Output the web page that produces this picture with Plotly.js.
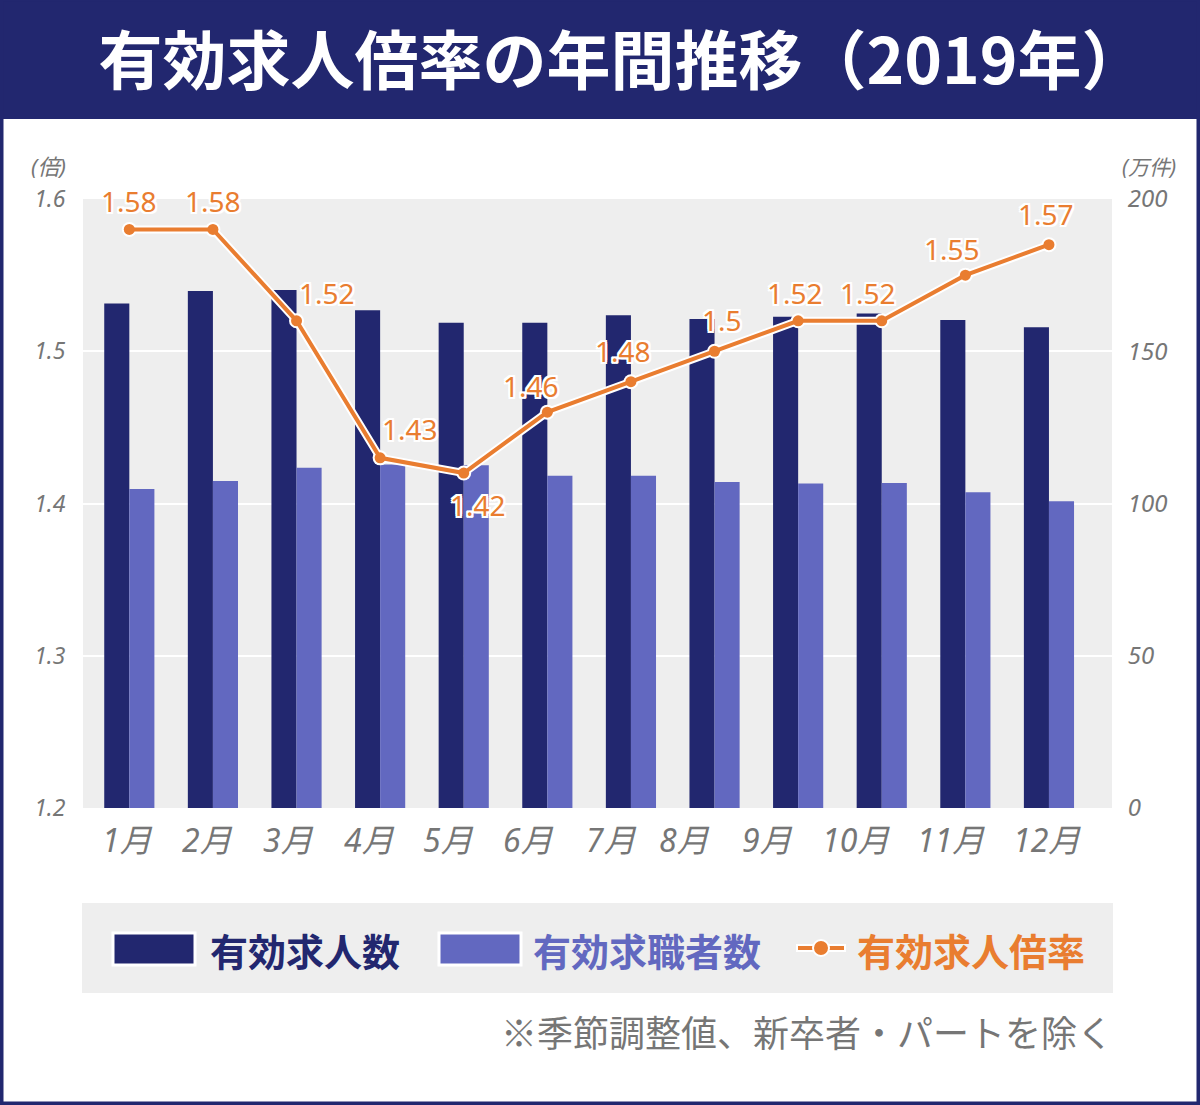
<!DOCTYPE html>
<html lang="ja">
<head>
<meta charset="utf-8">
<script src="https://cdn.plot.ly/plotly-3.0.1.min.js"></script>
<style>
  html, body { margin: 0; padding: 0; background: #ffffff; }
  #chart { width: 1200px; height: 1105px; }
</style>
</head>
<body>
<div id="chart"></div>
<script>
// 月別の値（2019年）
const months = ['1月', '2月', '3月', '4月', '5月', '6月', '7月', '8月', '9月', '10月', '11月', '12月'];
// 有効求人数（万件）
const jobOffers = [165.7, 169.8, 170.1, 163.5, 159.4, 159.4, 161.8, 160.6, 161.3, 162.4, 160.3, 157.9];
// 有効求職者数（万件）
const jobSeekers = [104.8, 107.4, 111.7, 112.8, 112.6, 109.1, 109.1, 107.1, 106.6, 106.7, 103.7, 100.7];
// 有効求人倍率（倍）
const ratio = [1.58, 1.58, 1.52, 1.43, 1.42, 1.46, 1.48, 1.5, 1.52, 1.52, 1.55, 1.57];

// 軸目盛
const ratioTicks = [1.2, 1.3, 1.4, 1.5, 1.6];
const countTicks = [0, 50, 100, 150, 200];

// 色
const NAVY = '#22276f';
const LIGHT = '#6268c0';
const ORANGE = '#e97d30';
const GRAY = '#767676';

// 描画領域（px）
const W = 1200, H = 1105;
const L = 83, R = 1112, T = 199, B = 808;
const px = v => (v - L) / (R - L);
const py = v => (B - v) / (B - T);

const CJK = 'Noto Sans CJK JP';
const MIX = '"Noto Sans", "Noto Sans CJK JP", sans-serif';
const outline = ['2px 0 0 #fff', '-2px 0 0 #fff', '0 2px 0 #fff', '0 -2px 0 #fff',
  '2px 2px 0 #fff', '-2px -2px 0 #fff', '2px -2px 0 #fff', '-2px 2px 0 #fff'].join(', ');

// 値ラベルの位置調整（px）
const labelShift = [[0, 28], [0, 28], [30, 28], [30, 29], [14, -32], [-16, 26],
  [-8, 31], [7, 31], [-3, 28], [-14, 28], [-13, 26], [-3, 31]];
// 月ラベルの横位置調整（px）
const monthShift = [-2, -5, -8, -11, -15, -19, -19, -30, -31, -26, -14, -2];

const traces = [
  {
    type: 'bar', x: months, y: jobOffers, name: '有効求人数',
    marker: { color: NAVY }, yaxis: 'y', hoverinfo: 'x+y'
  },
  {
    type: 'bar', x: months, y: jobSeekers, name: '有効求職者数',
    marker: { color: LIGHT }, yaxis: 'y', hoverinfo: 'x+y'
  },
  {
    type: 'scatter', mode: 'lines+markers', x: months, y: ratio, yaxis: 'y2',
    line: { color: '#ffffff', width: 8 }, marker: { size: 15, color: '#ffffff' },
    hoverinfo: 'skip', showlegend: false
  },
  {
    type: 'scatter', mode: 'lines+markers', x: months, y: ratio, yaxis: 'y2',
    name: '有効求人倍率',
    line: { color: ORANGE, width: 4 }, marker: { size: 11, color: ORANGE }
  }
];

const annotations = [];

// 値ラベル
ratio.forEach((v, i) => {
  annotations.push({
    x: months[i], y: v, xref: 'x', yref: 'y2', text: String(v), showarrow: false,
    xanchor: 'center', yanchor: 'middle',
    xshift: labelShift[i][0], yshift: labelShift[i][1],
    font: { family: MIX, size: 28, color: ORANGE, shadow: outline }
  });
});

// 月ラベル
months.forEach((m, i) => {
  annotations.push({
    x: m, y: 0, xref: 'x', yref: 'paper', text: m, showarrow: false,
    xanchor: 'center', yanchor: 'middle', xshift: monthShift[i], yshift: -31,
    font: { family: MIX, size: 32, color: GRAY, style: 'italic' }
  });
});

// 軸の単位
annotations.push(
  { x: px(48), y: py(166), xref: 'paper', yref: 'paper', text: '(倍)', showarrow: false,
    xanchor: 'center', yanchor: 'middle', font: { family: MIX, size: 22, color: GRAY, style: 'italic' } },
  { x: px(1149), y: py(167), xref: 'paper', yref: 'paper', text: '(万件)', showarrow: false,
    xanchor: 'center', yanchor: 'middle', font: { family: MIX, size: 21, color: GRAY, style: 'italic' } }
);

// 凡例の文字
const legendText = [
  { x: 208, text: '有効求人数', color: NAVY },
  { x: 531, text: '有効求職者数', color: LIGHT },
  { x: 855, text: '有効求人倍率', color: ORANGE }
];
legendText.forEach(t => {
  annotations.push({
    x: px(t.x), y: py(949), xref: 'paper', yref: 'paper', text: t.text, showarrow: false,
    xanchor: 'left', yanchor: 'middle',
    font: { family: CJK, size: 38, color: t.color, weight: 700 }
  });
});

// 注記
annotations.push({
  x: px(1115), y: py(1031), xref: 'paper', yref: 'paper',
  text: '※季節調整値、新卒者・パートを除く', showarrow: false,
  xanchor: 'right', yanchor: 'middle',
  font: { family: CJK, size: 36, color: GRAY }
});

const shapes = [
  // タイトル帯
  { type: 'rect', xref: 'paper', yref: 'paper', x0: px(0), x1: px(W), y0: py(119), y1: py(0),
    fillcolor: NAVY, line: { width: 0 }, layer: 'below' },
  // 外枠
  { type: 'rect', xref: 'paper', yref: 'paper', x0: px(1.75), x1: px(W - 1.75), y0: py(H - 1.75), y1: py(0),
    fillcolor: 'rgba(0,0,0,0)', line: { color: NAVY, width: 3.5 }, layer: 'below' },
  // 凡例の背景
  { type: 'rect', xref: 'paper', yref: 'paper', x0: px(82), x1: px(1113), y0: py(993), y1: py(903),
    fillcolor: '#eeeeee', line: { width: 0 }, layer: 'below' },
  // 凡例の記号
  { type: 'rect', xref: 'paper', yref: 'paper', x0: px(113), x1: px(195), y0: py(965), y1: py(933),
    fillcolor: NAVY, line: { color: '#ffffff', width: 3 }, layer: 'above' },
  { type: 'rect', xref: 'paper', yref: 'paper', x0: px(439), x1: px(521), y0: py(965), y1: py(933),
    fillcolor: LIGHT, line: { color: '#ffffff', width: 3 }, layer: 'above' },
  { type: 'line', xref: 'paper', yref: 'paper', x0: px(796), x1: px(846), y0: py(948), y1: py(948),
    line: { color: '#ffffff', width: 8 }, layer: 'above' },
  { type: 'line', xref: 'paper', yref: 'paper', x0: px(798), x1: px(844), y0: py(948), y1: py(948),
    line: { color: ORANGE, width: 4 }, layer: 'above' },
  { type: 'circle', xref: 'paper', yref: 'paper', x0: px(813), x1: px(829), y0: py(956), y1: py(940),
    fillcolor: ORANGE, line: { color: '#ffffff', width: 2 }, layer: 'above' }
];

const layout = {
  width: W, height: H,
  margin: { l: L, r: W - R, t: T, b: H - B, pad: 0 },
  paper_bgcolor: '#ffffff',
  plot_bgcolor: '#eeeeee',
  showlegend: false,
  barmode: 'group',
  bargap: 0.4,
  bargroupgap: 0,
  title: {
    text: '有効求人倍率の年間推移（2019年）',
    font: { family: CJK, size: 64, color: '#ffffff', weight: 700 },
    x: 622 / W, xanchor: 'center', xref: 'container',
    y: 1 - 62 / H, yanchor: 'middle', yref: 'container'
  },
  xaxis: {
    type: 'category', categoryorder: 'array', categoryarray: months,
    range: [-0.554, 11.754], showticklabels: false, showgrid: false,
    zeroline: false, showline: false, ticks: '', fixedrange: true
  },
  yaxis: {
    range: [0, 200], side: 'right', tickmode: 'array', tickvals: countTicks,
    ticktext: countTicks.map(String),
    showgrid: true, gridcolor: '#ffffff', gridwidth: 2, zeroline: false, showline: false,
    ticks: 'outside', ticklen: 10, tickcolor: 'rgba(0,0,0,0)',
    tickfont: { family: MIX, size: 24, color: GRAY, style: 'italic' }, fixedrange: true
  },
  yaxis2: {
    range: [1.2, 1.6], side: 'left', overlaying: 'y', tickmode: 'array', tickvals: ratioTicks,
    ticktext: ratioTicks.map(v => v.toFixed(1)),
    showgrid: false, zeroline: false, showline: false,
    ticks: 'outside', ticklen: 12, tickcolor: 'rgba(0,0,0,0)',
    tickfont: { family: MIX, size: 23, color: GRAY, style: 'italic' }, fixedrange: true
  },
  annotations: annotations,
  shapes: shapes
};

Plotly.newPlot('chart', traces, layout, { displayModeBar: false, staticPlot: true });
</script>
</body>
</html>
